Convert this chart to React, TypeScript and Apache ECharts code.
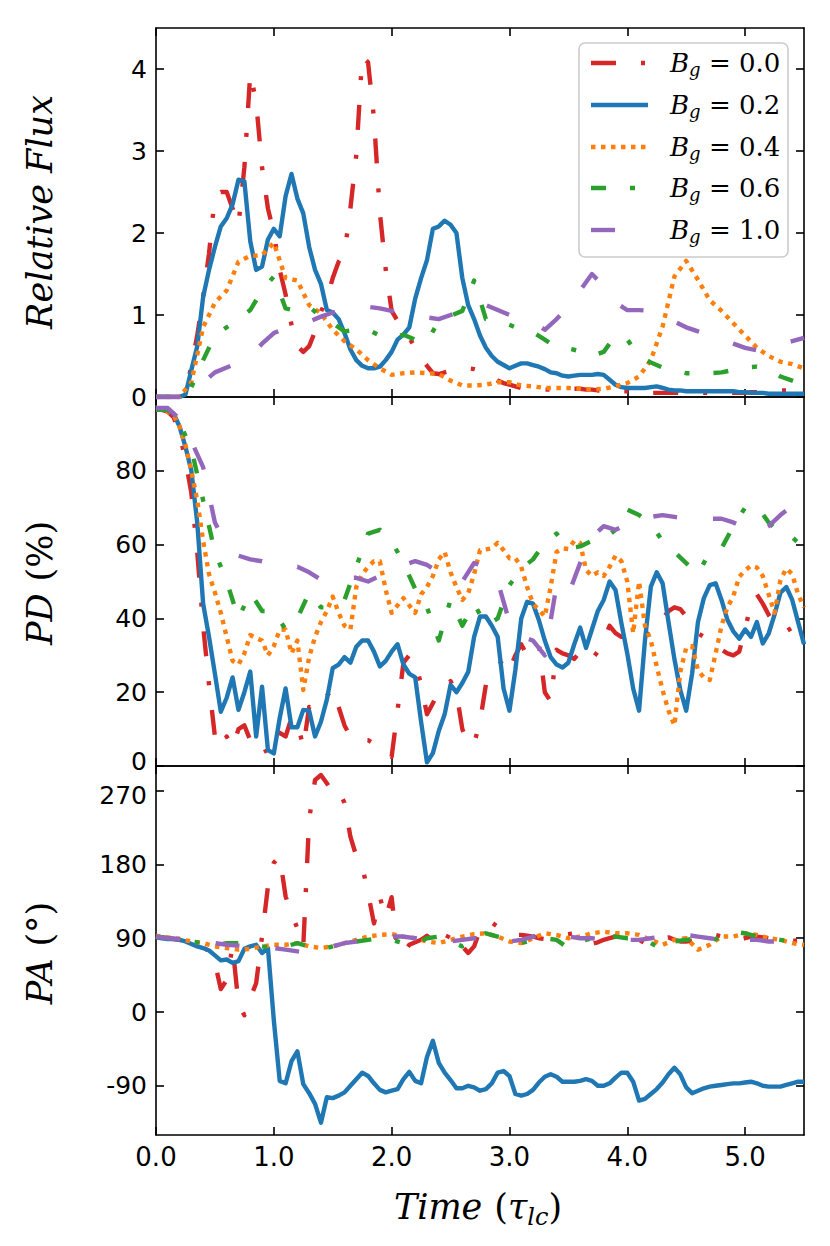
import React, { useEffect, useRef } from "react";
import * as echarts from "echarts";

// sample times (tau_lc)
const T05 = [0, 0.05, 0.1, 0.15, 0.2, 0.25, 0.3, 0.35, 0.4, 0.45, 0.5, 0.55, 0.6, 0.65, 0.7, 0.75, 0.8, 0.85, 0.9, 0.95,
  1.0, 1.05, 1.1, 1.15, 1.2, 1.25, 1.3, 1.35, 1.4, 1.45, 1.5, 1.55, 1.6, 1.65, 1.7, 1.75, 1.8, 1.85, 1.9, 1.95,
  2.0, 2.05, 2.1, 2.15, 2.2, 2.25, 2.3, 2.35, 2.4, 2.45, 2.5, 2.55, 2.6, 2.65, 2.7, 2.75, 2.8, 2.85, 2.9, 2.95,
  3.0, 3.05, 3.1, 3.15, 3.2, 3.25, 3.3, 3.35, 3.4, 3.45, 3.5, 3.55, 3.6, 3.65, 3.7, 3.75, 3.8, 3.85, 3.9, 3.95,
  4.0, 4.05, 4.1, 4.15, 4.2, 4.25, 4.3, 4.35, 4.4, 4.45, 4.5, 4.55, 4.6, 4.65, 4.7, 4.75, 4.8, 4.85, 4.9, 4.95,
  5.0, 5.05, 5.1, 5.15, 5.2, 5.25, 5.3, 5.35, 5.4, 5.45, 5.5];
const T10 = [0, 0.1, 0.2, 0.3, 0.4, 0.5, 0.6, 0.7, 0.8, 0.9, 1.0, 1.1, 1.2, 1.3, 1.4, 1.5, 1.6, 1.7, 1.8, 1.9,
  2.0, 2.1, 2.2, 2.3, 2.4, 2.5, 2.6, 2.7, 2.8, 2.9, 3.0, 3.1, 3.2, 3.3, 3.4, 3.5, 3.6, 3.7, 3.8, 3.9,
  4.0, 4.1, 4.2, 4.3, 4.4, 4.5, 4.6, 4.7, 4.8, 4.9, 5.0, 5.1, 5.2, 5.3, 5.4, 5.5];

// ---- Relative flux ----
const FLUX_00 = [0, 0, 0, 0, 0, 0.05, 0.38, 0.75, 1.22, 1.75,
  2.45, 2.5, 2.5, 2.3, 2.1, 2.8, 3.95, 3.6, 2.8, 2.3,
  2.0, 1.55, 1.25, 0.88, 0.62, 0.55, 0.62, 0.8, 1.04, 1.2,
  1.45, 1.65, 1.75, 2.3, 2.95, 4.15, 4.08, 3.4, 2.25, 1.55,
  1.05, 0.93, 0.8, 0.72, 0.6, 0.48, 0.38, 0.29, 0.28, 0.3,
  0.32, 0.33, 0.33, 0.35, 0.34, 0.32, 0.3, 0.25, 0.2, 0.17,
  0.15, 0.13, 0.11, 0.1, 0.09, 0.09, 0.09, 0.09, 0.09, 0.1,
  0.1, 0.1, 0.1, 0.09, 0.09, 0.08, 0.08, 0.07, 0.07, 0.07,
  0.07, 0.06, 0.06, 0.06, 0.05, 0.05, 0.05, 0.05, 0.05, 0.05,
  0.05, 0.05, 0.05, 0.05, 0.05, 0.05, 0.05, 0.05, 0.05, 0.05,
  0.05, 0.06, 0.06, 0.07, 0.07, 0.08, 0.08, 0.08, 0.07, 0.06, 0.06];
const FLUX_02 = [0, 0, 0, 0, 0, 0.03, 0.33, 0.62, 1.22, 1.55,
  1.83, 2.08, 2.18, 2.35, 2.65, 2.63, 1.9, 1.55, 1.59, 1.92,
  2.05, 1.96, 2.45, 2.72, 2.42, 2.24, 1.83, 1.55, 1.38, 1.06,
  1.03, 0.95, 0.78, 0.58, 0.45, 0.38, 0.35, 0.35, 0.37, 0.45,
  0.55, 0.7, 0.76, 0.85, 1.2, 1.45, 1.67, 2.05, 2.08, 2.15,
  2.1, 2.0, 1.45, 1.12, 0.95, 0.75, 0.6, 0.5, 0.43, 0.39,
  0.35, 0.38, 0.41, 0.41, 0.39, 0.37, 0.34, 0.3, 0.29, 0.26,
  0.25, 0.26, 0.27, 0.27, 0.27, 0.28, 0.27, 0.21, 0.15, 0.12,
  0.11, 0.11, 0.11, 0.11, 0.12, 0.13, 0.11, 0.09, 0.08, 0.08,
  0.07, 0.07, 0.07, 0.07, 0.07, 0.07, 0.07, 0.07, 0.07, 0.06,
  0.06, 0.05, 0.05, 0.05, 0.04, 0.04, 0.04, 0.04, 0.04, 0.04, 0.04];
const FLUX_04 = [0, 0, 0, 0.18, 0.85, 1.15, 1.3, 1.65, 1.72, 1.73,
  1.88, 1.45, 1.42, 1.12, 1.02, 0.82, 0.68, 0.58, 0.45, 0.35,
  0.27, 0.29, 0.3, 0.29, 0.28, 0.2, 0.14, 0.14, 0.15, 0.18,
  0.18, 0.14, 0.13, 0.11, 0.11, 0.11, 0.1, 0.09, 0.1, 0.13,
  0.17, 0.25, 0.45, 0.86, 1.47, 1.66, 1.43, 1.18, 1.05, 0.9,
  0.75, 0.6, 0.5, 0.43, 0.4, 0.35];
const FLUX_06 = [0, 0, 0, 0.12, 0.45, 0.75, 0.85, 0.95, 1.06, 1.3,
  1.47, 1.08, 1.05, 1.1, 0.98, 0.9, 0.8, 0.82, 0.82, 0.75,
  0.72, 0.76, 0.7, 0.67, 0.93, 0.99, 1.05, 1.42, 0.95, 0.93,
  0.88, 0.82, 0.79, 0.7, 0.6, 0.59, 0.56, 0.5, 0.55, 0.75,
  0.7, 0.5, 0.42, 0.36, 0.32, 0.29, 0.29, 0.29, 0.3, 0.33,
  0.36, 0.37, 0.33, 0.25, 0.2, 0.15];
const FLUX_10 = [0, 0, 0, 0.05, 0.18, 0.3, 0.36, 0.42, 0.5, 0.65,
  0.78, 0.84, 0.88, 0.92, 0.98, 1.03, 1.07, 1.1, 1.1, 1.08,
  1.05, 1.02, 1.0, 0.97, 0.95, 1.0, 1.06, 1.1, 1.12, 1.06,
  1.0, 0.95, 0.92, 0.82, 0.95, 1.1, 1.3, 1.5, 1.35, 1.15,
  1.06, 1.06, 1.05, 1.0, 0.92, 0.85, 0.8, 0.75, 0.7, 0.65,
  0.6, 0.57, 0.58, 0.64, 0.68, 0.72];

// ---- Polarization degree (%) ----
const PD_00 = [96.5, 96.5, 96, 94.5, 90, 83, 74, 58, 38, 22,
  8, 5, 8, 5, 10, 11, 7, 8, 6, 3,
  6, 9, 8, 13, 12, 5, 16, 15, 17, 19,
  21, 16, 11, 8, 7, 7, 7, 6, 5, 4,
  2.5, 15, 28, 30, 28.5, 22, 14, 17, 20, 21,
  23, 20, 10, 6, 6, 12, 22, 25, 27, 29,
  26, 30, 33, 30, 32, 33, 20, 17.5, 31.5, 30.5,
  30, 29, 31, 31, 29, 31, 34, 38, 36, 35,
  35, 37, 36.5, 35.5, 36, 37, 40, 42, 43, 42.5,
  40.5, 38, 36, 35, 34, 33, 31.5, 30.5, 30, 31,
  37, 44, 46.5, 44, 41, 38.5, 37, 36.5, 37.5, 38.5, 40];
const PD_02 = [96.5, 96.8, 96.5, 95.5, 92, 86.5, 80, 66, 44, 35,
  25, 14.7, 18.5, 24, 15.2, 20, 25.6, 8, 21.5, 4.3,
  3.4, 13, 21, 10.5, 10.5, 15.2, 15, 8, 12, 18,
  26.5, 27.5, 29.5, 28, 32.3, 34, 34, 31, 27, 28.5,
  31, 33, 27.5, 25, 24, 12, 1, 3.5, 9.5, 14,
  22, 20, 22.5, 25.5, 35, 40.5, 40.5, 38, 35, 21,
  15, 26, 40, 44.5, 44, 39.5, 34, 29.5, 27.5, 26.7,
  28, 33, 37.5, 32, 37, 42, 45, 50, 47.7, 38.7,
  30.5, 21, 15, 34, 48.6, 52.5, 49.5, 39, 29, 20.6,
  15, 25, 39, 45.5, 49, 49.5, 45, 39.6, 36.5, 34.5,
  37, 35, 39, 33.2, 35.9, 41, 47, 48.5, 45, 39, 33];
const PD_04 = [96.5, 96.5, 96, 95, 92, 87, 80, 72, 61, 52,
  47, 41.5, 35, 28.5, 27.5, 30.5, 35.5, 34.6, 34, 30,
  32.5, 36.9, 37, 30.5, 34, 20.6, 29.5, 35, 39, 42,
  45.9, 41.5, 38, 37, 48.5, 52, 54, 55.5, 55.5, 47.7,
  41.5, 43.5, 45.5, 43.5, 41.5, 46.5, 48.5, 51.5, 56, 58,
  52.5, 48.5, 45, 46.8, 52, 58.5, 58.7, 59, 60.5, 58.5,
  56.3, 56.3, 54, 48.5, 44, 42.3, 40.5, 48.6, 58, 59,
  58.8, 61, 60.5, 53.1, 51.5, 52.5, 51.5, 54, 57, 55.5,
  50, 36, 50, 38, 34, 27, 20.5, 15, 11, 25.5,
  32, 32.5, 26, 24, 23.3, 30.5, 38, 43, 46, 51.3,
  53, 54.3, 53.8, 51.5, 46.5, 41.5, 50.4, 53.5, 52, 46.5, 43];
const PD_06 = [96.5, 96.5, 93, 86, 72, 58, 50, 40, 47, 42,
  42, 37, 40, 47, 43, 43, 45, 54, 63, 64,
  61, 55, 48, 43, 34, 45, 38, 44, 38, 40,
  49, 53.5, 56, 60.5, 63, 59, 59.5, 61, 61.5, 64,
  69.5, 68, 65.5, 61, 58, 55, 52, 58, 59, 65,
  70, 70.5, 66, 63, 62, 59];
const PD_10 = [97, 97, 94, 88, 81, 66, 59.5, 57, 56, 55.5,
  54.5, 54, 54, 52.5, 50.5, 50.5, 51, 51, 50, 51.5,
  53, 54.5, 55.5, 54.5, 52.5, 51.5, 50, 55, 54, 50,
  39, 35, 34, 30, 49, 46.5, 55, 62, 65, 64,
  65.5, 66.5, 67.5, 68, 67.5, 67, 67, 67, 67, 66,
  64.5, 63, 65, 68, 70.5, 71];

// ---- Polarization angle (deg) ----
const PA_00 = [92, 91, 90, 89, 88, 87, 85, 82, 79, 74,
  60, 28, 39, 80, 10, -4, 17, 35, 92, 153,
  182, 190, 141, 120, 102, 80, 235, 283, 289, 279,
  267, 270, 255, 214, 190, 178, 145, 108, 140, 115,
  140, 75, 72, 82, 85, 88, 93, 86, 80, 85,
  98, 88, 80, 72, 80, 100, 110, 109, 104, 100,
  96, 94, 94, 93, 92, 90, 89, 90, 92, 94,
  95, 96, 93, 87, 83, 85, 88, 90, 92, 95,
  96, 93, 88, 84, 86, 88, 90, 91, 88, 86,
  86, 87, 88, 90, 92, 94, 92, 89, 86, 88,
  90, 92, 92, 91, 90, 89, 88, 87, 87, 87, 88];
const PA_02 = [91, 90, 89, 89, 88, 86, 83, 80, 78, 75,
  69, 63, 64, 60, 62, 77, 80, 82, 72, 78,
  -10, -84, -87, -60, -48, -88, -99, -112, -135, -104,
  -105, -102, -98, -90, -82, -74, -78, -87, -95, -98,
  -96, -94, -82, -73, -84, -87, -55, -35, -62, -74,
  -83, -93, -93, -90, -92, -96, -94, -87, -74, -72,
  -78, -100, -102, -100, -95, -86, -79, -76, -79, -85,
  -85, -85, -84, -82, -84, -90, -90, -87, -80, -74,
  -74, -85, -108, -106, -100, -94, -86, -76, -68, -76,
  -92, -99, -96, -93, -91, -90, -89, -88, -87, -87,
  -86, -85, -87, -90, -91, -91, -91, -89, -87, -85, -85];
const PA_04 = [93, 91, 89, 86, 84, 80, 78, 76, 77, 80,
  82, 82, 84, 80, 78, 80, 84, 88, 92, 94,
  95, 92, 90, 86, 84, 88, 92, 95, 96, 92,
  86, 84, 90, 96, 94, 90, 92, 96, 98, 96,
  96, 94, 88, 82, 88, 90, 76, 82, 92, 92,
  96, 94, 90, 88, 84, 82];
const PA_06 = [92, 90, 89, 86, 84, 82, 84, 84, 82, 80,
  78, 80, 84, 80, 76, 80, 84, 86, 88, 90,
  88, 84, 82, 90, 92, 86, 80, 88, 96, 92,
  88, 84, 88, 90, 88, 78, 86, 90, 94, 92,
  90, 90, 84, 76, 86, 88, 90, 86, 92, 98,
  96, 92, 90, 88, 86, 84];
const PA_10 = [92, 90, 89, 88, 86, 84, 82, 81, 80, 80,
  78, 76, 74, 72, 74, 80, 84, 86, 88, 90,
  92, 92, 90, 88, 86, 86, 88, 90, 90, 88,
  86, 88, 92, 96, 94, 92, 90, 90, 88, 88,
  88, 88, 90, 92, 94, 94, 92, 90, 88, 88,
  88, 88, 86, 86, 86, 86];

// ticks
const X_TICKS = [0, 1, 2, 3, 4, 5];
const FLUX_TICKS = [0, 1, 2, 3, 4];
const PD_TICKS = [0, 20, 40, 60, 80];
const PA_TICKS = [-90, 0, 90, 180, 270];

const GROUPS = ["0.0", "0.2", "0.4", "0.6", "1.0"];
const COLORS = ["#d62728", "#1f77b4", "#ff7f0e", "#2ca02c", "#9467bd"];
const DASHES: any[] = [[25, 25, 4, 25], "solid", [4.5, 5.5], [15, 24, 5, 24], [24, 36]];

const PANELS = [
  { times: [T05, T05, T10, T10, T10], values: [FLUX_00, FLUX_02, FLUX_04, FLUX_06, FLUX_10] },
  { times: [T05, T05, T05, T10, T10], values: [PD_00, PD_02, PD_04, PD_06, PD_10] },
  { times: [T05, T05, T10, T10, T10], values: [PA_00, PA_02, PA_04, PA_06, PA_10] },
];
// labels sitting on a shared panel border get nudged apart (lo = up, hi = down)
const Y_RANGES = [
  { min: 0, max: 4.5, ticks: FLUX_TICKS, lo: null as number | null, hi: null as number | null },
  { min: 0, max: 100, ticks: PD_TICKS, lo: 0, hi: null },
  { min: -150, max: 300, ticks: PA_TICKS, lo: null, hi: 270 },
];

const LABEL_FONT = "DejaVu Sans";
const SERIF = "DejaVu Serif";
const LINE_W = 4.4;

export default function App() {
  const ref = useRef<HTMLDivElement>(null);
  useEffect(() => {
    if (!ref.current) return;
    const chart = echarts.init(ref.current, undefined, { renderer: "svg" });
    const gridTops = [28, 397, 766];
    const gridH = 369;
    const line = { color: "#000", width: 1.6 };

    const grid = gridTops.map((top) => ({ left: 156, right: 26, top, height: gridH, containLabel: false }));

    const xAxis: any[] = [];
    const yAxis: any[] = [];
    for (let g = 0; g < 3; g++) {
      for (const pos of ["bottom", "top"]) {
        xAxis.push({
          type: "value", gridIndex: g, position: pos, min: 0, max: 5.5,
          axisLine: { show: true, onZero: false, lineStyle: line },
          axisTick: { show: true, inside: true, length: 8, lineStyle: line, customValues: X_TICKS },
          axisLabel: {
            show: g === 2 && pos === "bottom", customValues: X_TICKS,
            formatter: (v: number) => v.toFixed(1), fontSize: 26, lineHeight: 22, fontFamily: LABEL_FONT, color: "#000", margin: 11,
          },
          splitLine: { show: false },
        });
      }
      for (const pos of ["left", "right"]) {
        const r = Y_RANGES[g];
        yAxis.push({
          type: "value", gridIndex: g, position: pos, min: r.min, max: r.max,
          axisLine: { show: true, onZero: false, lineStyle: line },
          axisTick: { show: true, inside: true, length: 8, lineStyle: line, customValues: r.ticks },
          axisLabel: {
            show: pos === "left", customValues: r.ticks,
            formatter: (v: number) => (v === r.lo ? `{lo|${v}}` : v === r.hi ? `{hi|${v}}` : String(v)),
            rich: {
              lo: { fontSize: 25, fontFamily: LABEL_FONT, color: "#000", lineHeight: 22, padding: [0, 0, 9, 0] },
              hi: { fontSize: 25, fontFamily: LABEL_FONT, color: "#000", lineHeight: 22, padding: [9, 0, 0, 0] },
            },
            fontSize: 25, lineHeight: 22, fontFamily: LABEL_FONT, color: "#000", margin: 9,
          },
          splitLine: { show: false },
        });
      }
    }

    const series: any[] = [];
    PANELS.forEach((p, g) => {
      GROUPS.forEach((name, k) => {
        const t = p.times[k];
        const v = p.values[k];
        series.push({
          type: "line", name, xAxisIndex: g * 2, yAxisIndex: g * 2,
          data: t.map((x, i) => [x, v[i]]),
          showSymbol: false, symbol: "none", smooth: false,
          lineStyle: { color: COLORS[k], width: LINE_W, type: DASHES[k], cap: "butt", join: "round" },
          itemStyle: { color: COLORS[k] },
          z: 2 + k,
        });
      });
    });

    // legend (box, handles, labels)
    const legendRich = {
      b: { fontFamily: SERIF, fontStyle: "italic", fontSize: 26, lineHeight: 30, verticalAlign: "middle", fill: "#000" },
      s: { fontFamily: SERIF, fontStyle: "italic", fontSize: 18, lineHeight: 18, verticalAlign: "bottom", fill: "#000" },
      r: { fontFamily: SERIF, fontSize: 26, lineHeight: 30, verticalAlign: "middle", fill: "#000" },
    };
    const rowY = [63, 105, 147, 188, 230];
    const legendEls: any[] = [
      { type: "rect", z: 100, shape: { x: 579, y: 43, width: 209, height: 214, r: 6 },
        style: { fill: "rgba(255,255,255,0.8)", stroke: "#cccccc", lineWidth: 1.6 } },
    ];
    GROUPS.forEach((name, k) => {
      const d = DASHES[k];
      legendEls.push({
        type: "line", z: 101, shape: { x1: 591, y1: rowY[k], x2: 648, y2: rowY[k] },
        style: { stroke: COLORS[k], lineWidth: LINE_W, lineDash: d === "solid" ? null : d, lineCap: "butt" },
      });
      legendEls.push({
        type: "text", z: 101, x: 670, y: rowY[k],
        style: { text: `{b|B}{s|g}{r| = ${name}}`, rich: legendRich, align: "left", verticalAlign: "middle" },
      });
    });

    const titleRich = {
      i: { fontFamily: SERIF, fontStyle: "italic", fontSize: 35, lineHeight: 44, verticalAlign: "middle", fill: "#000" },
      n: { fontFamily: SERIF, fontSize: 35, lineHeight: 44, verticalAlign: "middle", fill: "#000" },
      np: { fontFamily: SERIF, fontSize: 35, lineHeight: 44, verticalAlign: "middle", fill: "#000", padding: [0, 0, 0, 12] },
      s: { fontFamily: SERIF, fontStyle: "italic", fontSize: 24, lineHeight: 24, verticalAlign: "bottom", fill: "#000" },
    };

    chart.setOption({
      animation: false,
      backgroundColor: "#fff",
      grid, xAxis, yAxis, series,
      graphic: [
        ...legendEls,
        { type: "text", x: 40, y: 212, rotation: Math.PI / 2, z: 50,
          style: { text: "{i|Relative Flux}", rich: titleRich, align: "center", verticalAlign: "middle" } },
        { type: "text", x: 40, y: 583, rotation: Math.PI / 2, z: 50,
          style: { text: "{i|PD}{np|(%)}", rich: titleRich, align: "center", verticalAlign: "middle" } },
        { type: "text", x: 40, y: 953, rotation: Math.PI / 2, z: 50,
          style: { text: "{i|PA}{np|(°)}", rich: titleRich, align: "center", verticalAlign: "middle" } },
        { type: "text", x: 478, y: 1207, z: 50,
          style: { text: "{i|Time}{np|(}{i|τ}{s|lc}{n|)}", rich: titleRich, align: "center", verticalAlign: "middle" } },
      ],
    });
    return () => chart.dispose();
  }, []);
  return <div ref={ref} style={{ position: "absolute", left: 0, top: 0, width: 830, height: 1246 }} />;
}
